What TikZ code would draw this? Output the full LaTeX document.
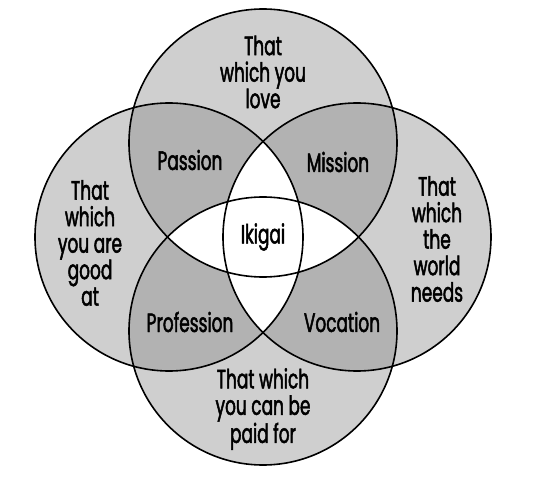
\documentclass[tikz,border=0pt]{standalone}
\usepackage{fontspec}
\setmainfont[FakeStretch=0.64, FakeBold=1.8]{Poppins}

\definecolor{single}{gray}{0.81}
\definecolor{pair}{gray}{0.70}

\tikzset{
  ringtext/.style={font=\fontsize{26.5}{26.5}\selectfont, align=center, inner sep=0pt},
  ring/.style={draw=black, line width=1.6pt}
}

\begin{document}
\begin{tikzpicture}[x=1pt, y=-1pt]
\useasboundingbox (0,0) rectangle (539,494);

% Circle centres
\coordinate (love) at (263,143);
\coordinate (good) at (169,237);
\coordinate (needs) at (357,237);
\coordinate (paid) at (263,331);

% Light fill of the four circles
\fill[single] (love) circle (134pt) (good) circle (134pt)
  (needs) circle (134pt) (paid) circle (134pt);

% Darker overlaps
\begin{scope}
  \clip (love) circle (134pt);
  \fill[pair] (good) circle (134pt) (needs) circle (134pt);
\end{scope}
\begin{scope}
  \clip (paid) circle (134pt);
  \fill[pair] (good) circle (134pt) (needs) circle (134pt);
\end{scope}

% White centre
\begin{scope}
  \clip (love) circle (134pt);
  \fill[white] (paid) circle (134pt);
\end{scope}
\begin{scope}
  \clip (good) circle (134pt);
  \fill[white] (needs) circle (134pt);
\end{scope}

% Outlines
\draw[ring] (love) circle (134pt);
\draw[ring] (good) circle (134pt);
\draw[ring] (needs) circle (134pt);
\draw[ring] (paid) circle (134pt);

% Outer texts
\node[ringtext] (lovetext) at (263,72) {That\\which you\\love};
\node[ringtext] (goodtext) at (90,243) {That\\which\\you are\\good\\at};
\node[ringtext] (needstext) at (437,239) {That\\which\\the\\world\\needs};
\node[ringtext] (paidtext) at (263,409) {That which\\you can be\\paid for};

% Overlaps
\node[ringtext] (passion) at (190,160) {Passion};
\node[ringtext] (mission) at (338,162) {Mission};
\node[ringtext] (profession) at (190,322) {Profession};
\node[ringtext] (vocation) at (342,322) {Vocation};
\node[ringtext] (ikigai) at (263,237) {Ikigai};

\end{tikzpicture}
\end{document}
